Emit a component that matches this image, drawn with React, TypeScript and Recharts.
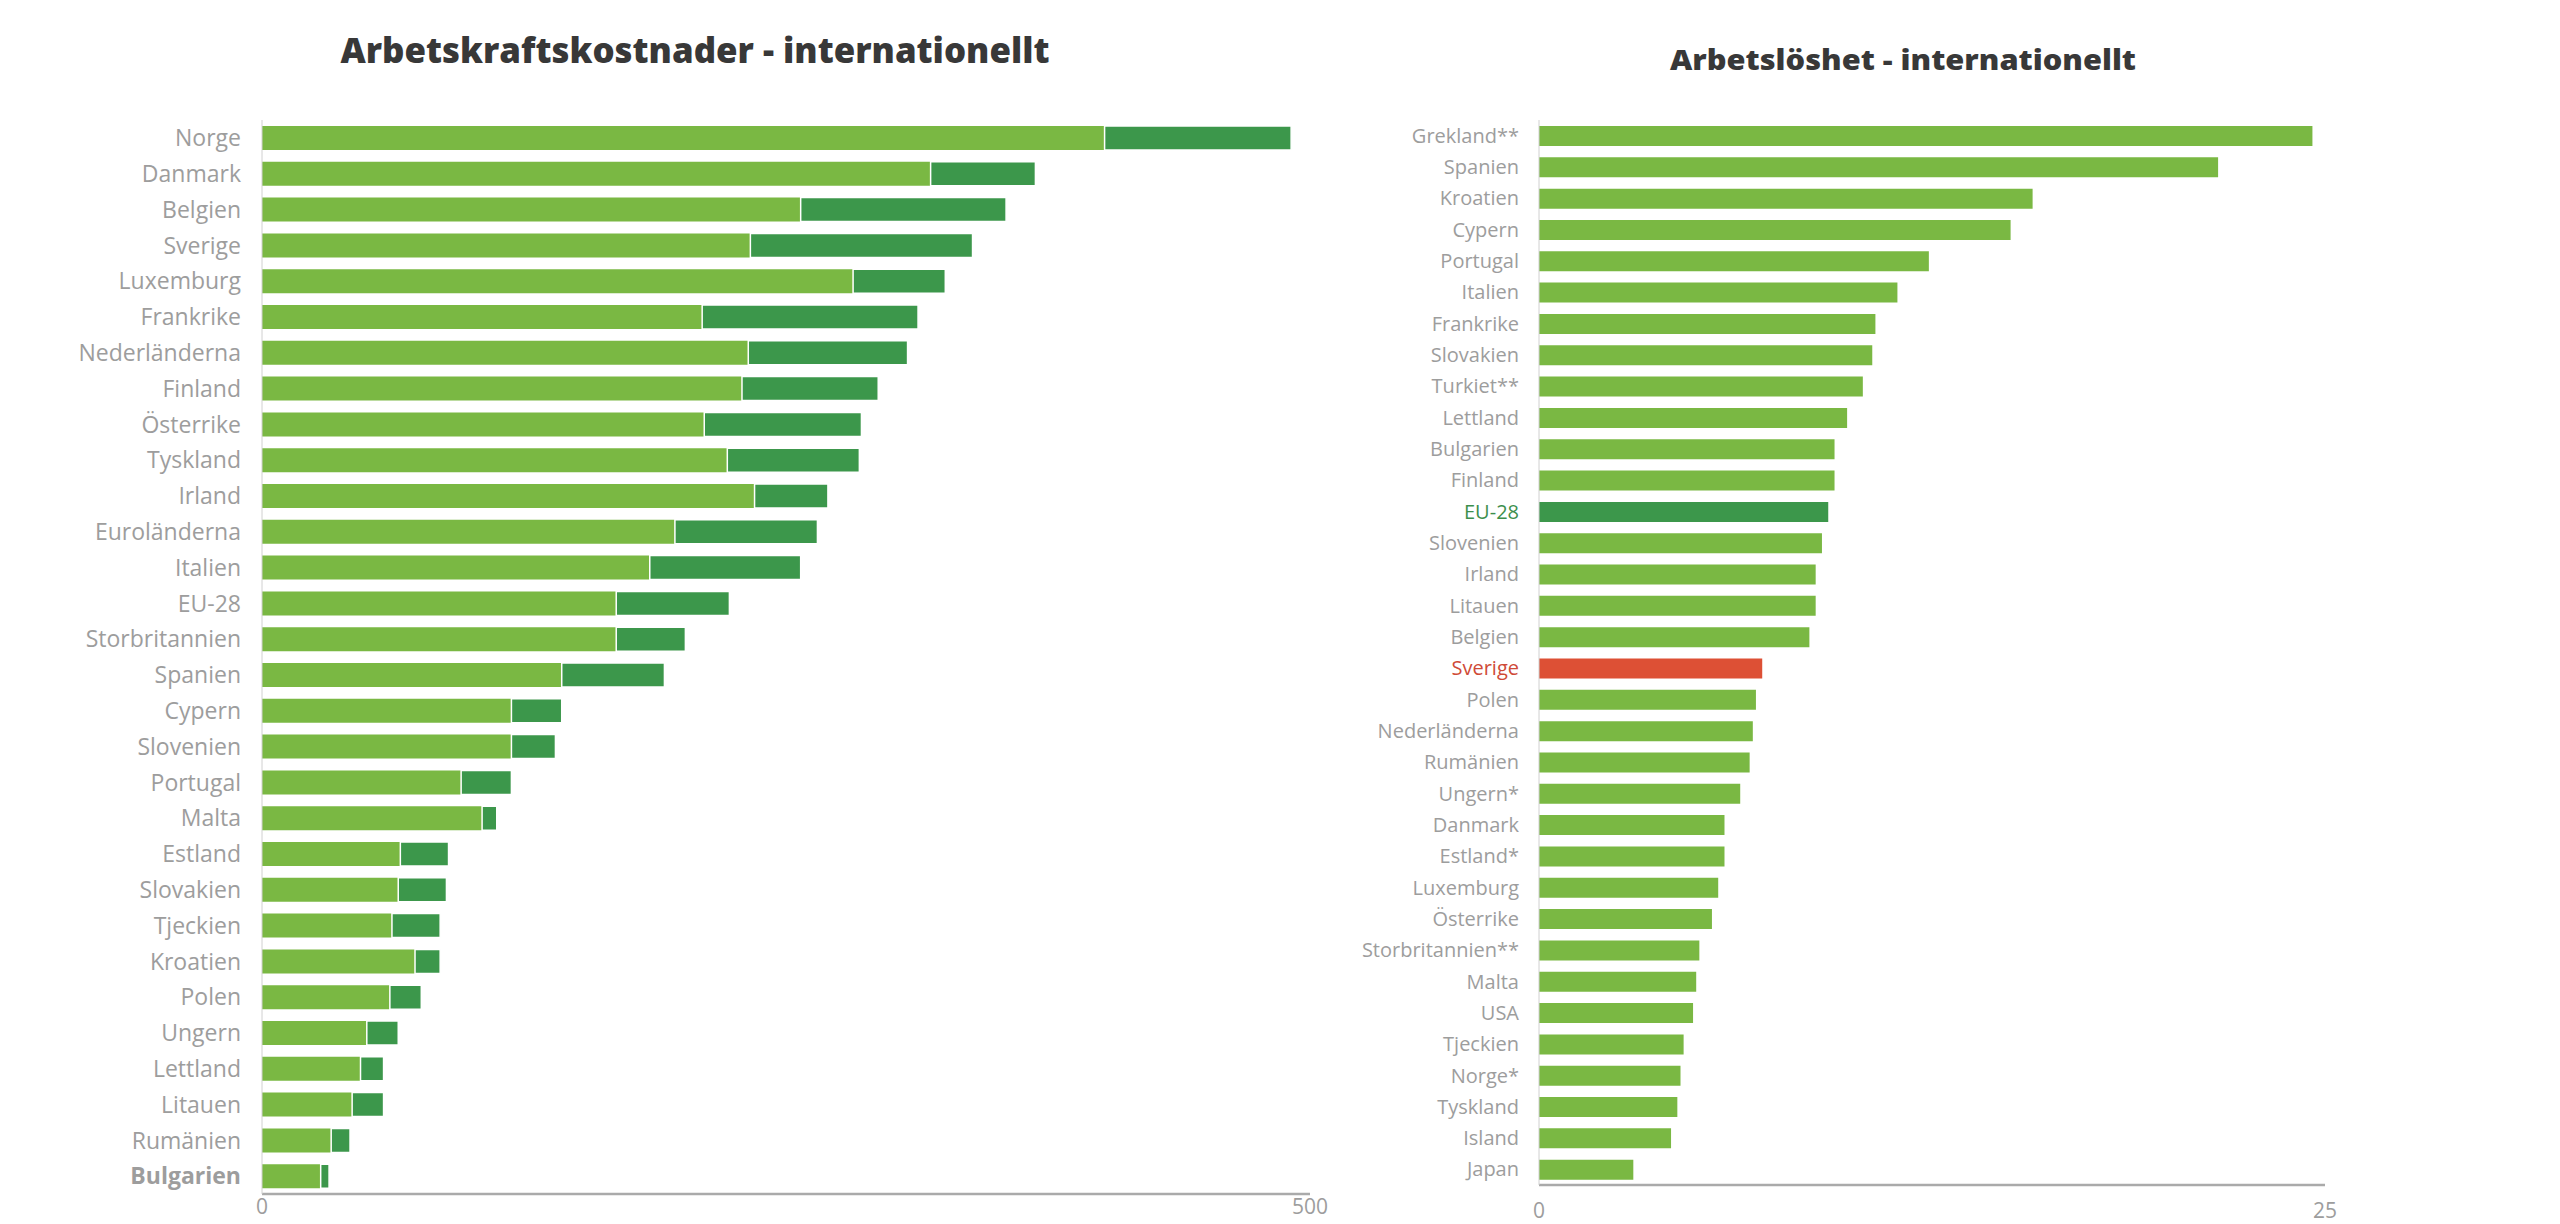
import React from 'react';
import { BarChart, Bar, XAxis, YAxis, Cell } from 'recharts';

// ---------- Left chart: Arbetskraftskostnader ----------
const costCountries = [
  'Norge', 'Danmark', 'Belgien', 'Sverige', 'Luxemburg', 'Frankrike', 'Nederländerna', 'Finland',
  'Österrike', 'Tyskland', 'Irland', 'Euroländerna', 'Italien', 'EU-28', 'Storbritannien', 'Spanien',
  'Cypern', 'Slovenien', 'Portugal', 'Malta', 'Estland', 'Slovakien', 'Tjeckien', 'Kroatien',
  'Polen', 'Ungern', 'Lettland', 'Litauen', 'Rumänien', 'Bulgarien',
];
const costBase = [
  402, 319, 257, 233, 282, 210, 232, 229,
  211, 222, 235, 197, 185, 169, 169, 143,
  119, 119, 95, 105, 66, 65, 62, 73,
  61, 50, 47, 43, 33, 28,
];
const costExtra = [
  89, 50, 98, 106, 44, 103, 76, 65,
  75, 63, 35, 68, 72, 54, 33, 49,
  24, 21, 24, 7, 23, 23, 23, 12,
  15, 15, 11, 15, 9, 4,
];
const costTicks = [0, 500];

// ---------- Right chart: Arbetslöshet ----------
const unempCountries = [
  'Grekland**', 'Spanien', 'Kroatien', 'Cypern', 'Portugal', 'Italien', 'Frankrike', 'Slovakien',
  'Turkiet**', 'Lettland', 'Bulgarien', 'Finland', 'EU-28', 'Slovenien', 'Irland', 'Litauen',
  'Belgien', 'Sverige', 'Polen', 'Nederländerna', 'Rumänien', 'Ungern*', 'Danmark', 'Estland*',
  'Luxemburg', 'Österrike', 'Storbritannien**', 'Malta', 'USA', 'Tjeckien', 'Norge*', 'Tyskland',
  'Island', 'Japan',
];
const unempValues = [
  24.6, 21.6, 15.7, 15.0, 12.4, 11.4, 10.7, 10.6,
  10.3, 9.8, 9.4, 9.4, 9.2, 9.0, 8.8, 8.8,
  8.6, 7.1, 6.9, 6.8, 6.7, 6.4, 5.9, 5.9,
  5.7, 5.5, 5.1, 5.0, 4.9, 4.6, 4.5, 4.4,
  4.2, 3.0,
];
const unempTicks = [0, 25];

const costData = costCountries.map((name, i) => ({ name, base: costBase[i], extra: costExtra[i] }));
const unempData = unempCountries.map((name, i) => ({ name, value: unempValues[i] }));

const LIGHT = '#7ab843';
const DARK = '#3c974b';
const RED = '#dd5035';
const GREY = '#9d9d9d';
const FONT = '"Open Sans", "Noto Sans", sans-serif';

const CostYTick = (props: any) => {
  const { x, y, payload } = props;
  const bold = payload.value === 'Bulgarien';
  return (
    <text x={x} y={y} dy="0.357em" textAnchor="end" fill={GREY} fontSize={23}
      fontWeight={bold ? 700 : 400} fontFamily={FONT}>
      {payload.value}
    </text>
  );
};

const UnempYTick = (props: any) => {
  const { x, y, payload } = props;
  let fill = GREY;
  if (payload.value === 'EU-28') fill = '#3d8f4c';
  if (payload.value === 'Sverige') fill = '#cf4a37';
  return (
    <text x={x} y={y} dy="0.357em" textAnchor="end" fill={fill} fontSize={20} fontFamily={FONT}>
      {payload.value}
    </text>
  );
};

const XTick = (props: any) => {
  const { x, y, payload } = props;
  return (
    <text x={x} y={y} dy="0.71em" textAnchor="middle" fill={GREY} fontSize={21} fontFamily={FONT}>
      {payload.value}
    </text>
  );
};

export default function App() {
  return (
    <div style={{ position: 'absolute', left: 0, top: 0, width: 2560, height: 1224, background: '#fff', overflow: 'hidden' }}>
      <svg width={2560} height={110} style={{ position: 'absolute', left: 0, top: 0 }}>
        <text x={695} y={63} textAnchor="middle" fontFamily={FONT} fontWeight={800} fontSize={36}
          fill="#383838" textLength={709} lengthAdjust="spacingAndGlyphs">
          Arbetskraftskostnader - internationellt
        </text>
        <text x={1903} y={70} textAnchor="middle" fontFamily={FONT} fontWeight={800} fontSize={29}
          fill="#383838" textLength={466} lengthAdjust="spacingAndGlyphs">
          Arbetslöshet - internationellt
        </text>
      </svg>

      <div style={{ position: 'absolute', left: 0, top: 0 }}>
        <BarChart layout="vertical" width={1330} height={1224} data={costData}
          margin={{ top: 120, right: 20, bottom: 0, left: 0 }} barSize={24}>
          <XAxis type="number" domain={[0, 500]} ticks={costTicks} height={30}
            axisLine={{ stroke: '#aaaaaa', strokeWidth: 2.5 }} tickLine={false} tickSize={0} tickMargin={5}
            tick={<XTick />} />
          <YAxis type="category" dataKey="name" width={262} interval={0}
            axisLine={{ stroke: '#d0d0d0', strokeWidth: 1 }} tickLine={false} tickSize={0} tickMargin={21}
            tick={<CostYTick />} />
          <Bar dataKey="base" stackId="c" fill={LIGHT} isAnimationActive={false} />
          <Bar dataKey="extra" stackId="c" fill={DARK} stroke="#ffffff" strokeWidth={1.5} isAnimationActive={false} />
        </BarChart>
      </div>

      <div style={{ position: 'absolute', left: 1330, top: 0 }}>
        <BarChart layout="vertical" width={1230} height={1224} data={unempData}
          margin={{ top: 120, right: 235, bottom: 0, left: 0 }} barSize={20}>
          <XAxis type="number" domain={[0, 25]} ticks={unempTicks} height={39}
            axisLine={{ stroke: '#aaaaaa', strokeWidth: 2.5 }} tickLine={false} tickSize={0} tickMargin={18}
            tick={<XTick />} />
          <YAxis type="category" dataKey="name" width={209} interval={0}
            axisLine={{ stroke: '#d0d0d0', strokeWidth: 1 }} tickLine={false} tickSize={0} tickMargin={20}
            tick={<UnempYTick />} />
          <Bar dataKey="value" fill={LIGHT} isAnimationActive={false}>
            {unempData.map((d) => (
              <Cell key={d.name} fill={d.name === 'EU-28' ? DARK : d.name === 'Sverige' ? RED : LIGHT} />
            ))}
          </Bar>
        </BarChart>
      </div>
    </div>
  );
}
